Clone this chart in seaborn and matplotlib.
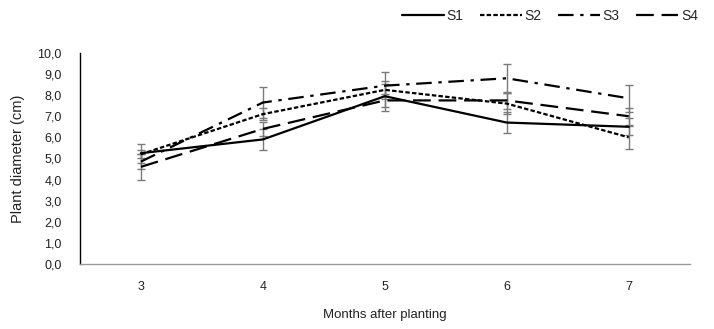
import matplotlib
matplotlib.use("Agg")
import matplotlib.pyplot as plt
import seaborn as sns
import pandas as pd
from matplotlib import font_manager as fm
from matplotlib.lines import Line2D

months = [3, 4, 5, 6, 7]
series_names = ["S1", "S2", "S3", "S4"]
s1 = [5.25, 5.9, 7.95, 6.7, 6.5]
s2 = [5.2, 7.1, 8.25, 7.6, 6.0]
s3 = [4.85, 7.65, 8.45, 8.8, 7.85]
s4 = [4.6, 6.4, 7.75, 7.75, 7.0]
e1 = [0.45, 0.5, 0.7, 0.5, 0.4]
e2 = [0.2, 0.3, 0.3, 0.5, 0.55]
e3 = [0.35, 0.75, 0.65, 0.7, 0.65]
e4 = [0.6, 0.35, 0.3, 0.4, 0.4]
y_ticks = [0, 1, 2, 3, 4, 5, 6, 7, 8, 9, 10]

sns.set_theme(style="white")
names = {f.name for f in fm.fontManager.ttflist}
fam = "Liberation Sans Narrow" if "Liberation Sans Narrow" in names else "Liberation Sans"
plt.rcParams['font.family'] = [fam, 'DejaVu Sans']

rows = []
for name, vals, errs in zip(series_names, [s1, s2, s3, s4], [e1, e2, e3, e4]):
    for m, v, e in zip(months, vals, errs):
        rows.append({"month": m, "value": v, "err": e, "series": name})
df = pd.DataFrame(rows)

fig = plt.figure(figsize=(7.14, 3.29), dpi=100)
ax = fig.add_axes([0.112, 0.198, 0.854, 0.641])

dash_map = {"S1": "", "S2": (2, 1), "S3": (7, 3, 1.5, 3), "S4": (8, 3.5)}
for name in series_names:
    sub = df[df.series == name]
    ax.errorbar(sub["month"], sub["value"], yerr=sub["err"], fmt="none",
                ecolor="#7a7a7a", elinewidth=1.0, capsize=3, capthick=1.0, zorder=1)

sns.lineplot(data=df, x="month", y="value", hue="series", style="series",
             palette={n: "black" for n in series_names}, dashes=dash_map,
             linewidth=1.6, ax=ax, legend=False, zorder=3)

ax.set_xlim(2.5, 7.5)
ax.set_ylim(0, 10)
ax.set_xticks(months)
ax.set_xticklabels([str(m) for m in months], fontsize=9)
ax.set_yticks(y_ticks)
ax.set_yticklabels([f"{t:.1f}".replace(".", ",") for t in y_ticks], fontsize=9)
ax.tick_params(axis="x", length=0, pad=12, colors="#222222")
ax.tick_params(axis="y", length=0, pad=13, colors="#222222")
ax.set_xlabel("Months after planting", fontsize=9.5, labelpad=12, color="#222222")
ax.set_ylabel("Plant diameter (cm)", fontsize=10.5, labelpad=9, color="#222222")

for side in ["top", "right"]:
    ax.spines[side].set_visible(False)
ax.spines["left"].set_color("black")
ax.spines["left"].set_linewidth(1.0)
ax.spines["bottom"].set_color("#999999")
ax.spines["bottom"].set_linewidth(1.0)

handles = [Line2D([], [], color="black", lw=1.6, linestyle="-"),
           Line2D([], [], color="black", lw=1.6, dashes=(2, 1)),
           Line2D([], [], color="black", lw=1.6, dashes=(7, 3, 1.5, 3)),
           Line2D([], [], color="black", lw=1.6, dashes=(8, 3.5))]
fig.legend(handles, series_names, loc="upper right", bbox_to_anchor=(0.995, 1.01),
           ncol=4, frameon=False, fontsize=10, handlelength=3.0,
           handletextpad=0.2, columnspacing=1.2)

fig.savefig("out.png", dpi=100)
